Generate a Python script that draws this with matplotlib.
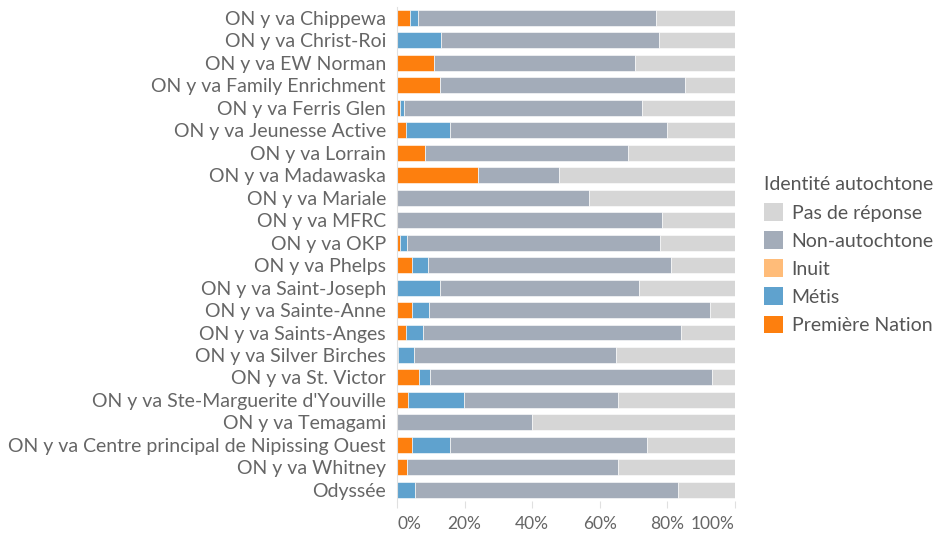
import matplotlib
matplotlib.use("Agg")
import matplotlib.pyplot as plt
import matplotlib.ticker as mticker
from matplotlib.patches import Patch
import numpy as np

# ---- data (percent of respondents) ----
schools = [
    "ON y va Chippewa", "ON y va Christ-Roi", "ON y va EW Norman",
    "ON y va Family Enrichment", "ON y va Ferris Glen", "ON y va Jeunesse Active",
    "ON y va Lorrain", "ON y va Madawaska", "ON y va Mariale", "ON y va MFRC",
    "ON y va OKP", "ON y va Phelps", "ON y va Saint-Joseph", "ON y va Sainte-Anne",
    "ON y va Saints-Anges", "ON y va Silver Birches", "ON y va St. Victor",
    "ON y va Ste-Marguerite d'Youville", "ON y va Temagami",
    "ON y va Centre principal de Nipissing Ouest", "ON y va Whitney", "Odyssée",
]
premiere_nation = [3.8, 0.0, 10.8, 12.7, 0.9, 2.6, 8.2, 23.9, 0.0, 0.0, 0.9, 4.4,
                   0.0, 4.4, 2.8, 0.3, 6.6, 3.3, 0.0, 4.4, 2.9, 0.0]
metis = [2.4, 13.1, 0.0, 0.0, 1.2, 13.1, 0.0, 0.0, 0.0, 0.0, 2.0, 4.7,
         12.7, 5.1, 5.0, 4.6, 3.3, 16.4, 0.0, 11.3, 0.0, 5.3]
inuit = [0.0] * 22
non_autochtone = [70.4, 64.4, 59.7, 72.6, 70.4, 64.2, 60.1, 23.9, 56.9, 78.3, 74.9, 72.0,
                  59.0, 83.2, 76.2, 59.8, 83.2, 45.8, 40.0, 58.4, 62.6, 77.9]
pas_de_reponse = [100 - a - b - c - d for a, b, c, d in
                  zip(premiere_nation, metis, inuit, non_autochtone)]

x_ticks = [0, 20, 40, 60, 80, 100]

series = [
    ("Première Nation", premiere_nation, "#fd7f0e"),
    ("Métis", metis, "#5fa2ce"),
    ("Inuit", inuit, "#ffbc79"),
    ("Non-autochtone", non_autochtone, "#a3acb9"),
    ("Pas de réponse", pas_de_reponse, "#d6d6d6"),
]

plt.rcParams["font.family"] = ["Lato", "DejaVu Sans"]
text_col = "#666666"

fig = plt.figure(figsize=(9.43, 5.35), dpi=100)
ax = fig.add_axes([397 / 943, 1 - 501 / 535, 338 / 943, (501 - 6.75) / 535])

y = np.arange(len(schools))
left = np.zeros(len(schools))
for name, vals, col in series:
    vals = np.array(vals)
    ax.barh(y, vals, left=left, height=0.71, color=col,
            edgecolor="white", linewidth=0.4)
    left += vals

ax.set_ylim(len(schools) - 0.5, -0.5)
ax.set_xlim(0, 100)
ax.set_yticks(y)
ax.set_yticklabels(schools, fontsize=14, color=text_col)
ax.set_xticks(x_ticks)
ax.xaxis.set_major_formatter(mticker.PercentFormatter(decimals=0))
ax.tick_params(axis="x", colors="#e0e0e0", labelcolor=text_col, labelsize=12.5,
               length=5, width=0.8, pad=6)
ax.tick_params(axis="y", length=0, pad=8)
for s in ["top", "right", "bottom"]:
    ax.spines[s].set_visible(False)
ax.spines["left"].set_color("#e0e0e0")

# nudge the edge tick labels inward like the original
lbls = ax.get_xticklabels()
lbls[0].set_horizontalalignment("left")
lbls[-1].set_horizontalalignment("right")

handles = [Patch(facecolor=c, edgecolor="none", label=n) for n, _, c in reversed(series)]
leg = fig.legend(handles=handles, title="Identité autochtone", loc="upper left",
                 bbox_to_anchor=(746 / 943, 1 - 159 / 535), frameon=False,
                 fontsize=14, title_fontsize=14, handlelength=1.0,
                 handleheight=1.0, handletextpad=0.45, labelspacing=0.5,
                 alignment="left")
leg.get_title().set_color("#555555")
for t in leg.get_texts():
    t.set_color("#555555")

fig.savefig("out.png", dpi=100)
